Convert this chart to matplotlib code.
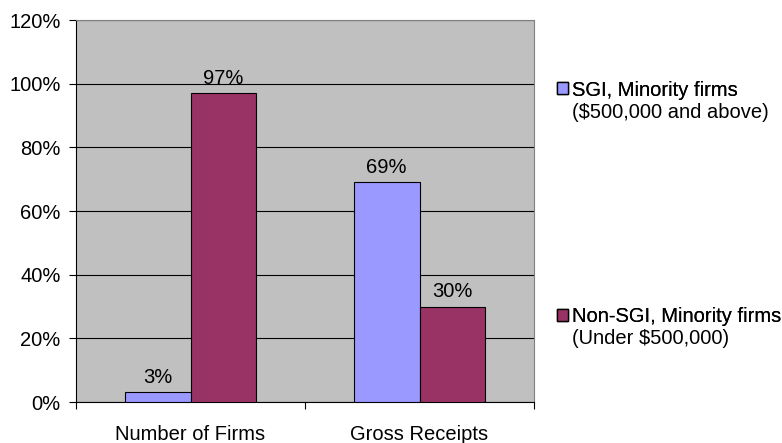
import numpy as np
import matplotlib.pyplot as plt
from matplotlib.patches import Patch

categories = ['Number of Firms', 'Gross Receipts']
sgi_vals = [3, 69]
non_sgi_vals = [97, 30]
sgi_label = ['SGI, Minority firms', '($500,000 and above)']
non_sgi_label = ['Non-SGI, Minority firms', '(Under $500,000)']

plt.rcParams['font.family'] = ['Liberation Sans', 'DejaVu Sans']
FS = 14.5

fig = plt.figure(figsize=(7.82, 4.43), dpi=100)
ax = fig.add_axes([76 / 782, 1 - 402 / 443, (534 - 76) / 782, (402 - 20) / 443])
ax.set_facecolor('#C0C0C0')

x = np.arange(len(categories))
w = 0.288
b1 = ax.bar(x - w / 2, sgi_vals, w, color='#9999FF', edgecolor='black', linewidth=0.8, zorder=3)
b2 = ax.bar(x + w / 2, non_sgi_vals, w, color='#993366', edgecolor='black', linewidth=0.8, zorder=3)

for bars, vals in [(b1, sgi_vals), (b2, non_sgi_vals)]:
    for rect, v in zip(bars, vals):
        ax.annotate(f'{v}%', (rect.get_x() + rect.get_width() / 2, v),
                    xytext=(0, 4), textcoords='offset points',
                    ha='center', va='bottom', fontsize=FS)

ax.set_xlim(-0.5, 1.5)
ax.set_ylim(0, 120)
ax.set_yticks(np.arange(0, 121, 20))
ax.set_yticklabels([f'{t}%' for t in range(0, 121, 20)], fontsize=FS)
ax.yaxis.grid(True, color='black', linewidth=0.8, zorder=1)
ax.set_axisbelow(True)

ax.set_xticks([-0.5, 0.5, 1.5])
ax.set_xticklabels([])
ax.set_xticks(x, minor=True)
ax.set_xticklabels(categories, minor=True, fontsize=FS)
ax.tick_params(axis='x', which='minor', length=0, pad=16.5)
ax.tick_params(axis='x', which='major', length=5, direction='out')
ax.tick_params(axis='y', length=5, pad=6, direction='out')

for s in ['top', 'right']:
    ax.spines[s].set_color('#808080')
    ax.spines[s].set_linewidth(0.8)

# legend: handle sits on the first line, second line added as plain text
for color, lines, yc in [('#9999FF', sgi_label, 90), ('#993366', non_sgi_label, 317)]:
    leg = fig.legend(handles=[Patch(facecolor=color, edgecolor='black', label=lines[0])],
                     loc='center left', bbox_to_anchor=(557 / 782, 1 - yc / 443),
                     frameon=False, fontsize=FS, handlelength=0.55, handleheight=0.55,
                     handletextpad=0.2, borderpad=0, borderaxespad=0)
    fig.add_artist(leg)
    fig.text(572 / 782, 1 - (yc + 22) / 443, lines[1], fontsize=FS, va='center', ha='left')

fig.savefig('out.png', dpi=100)
